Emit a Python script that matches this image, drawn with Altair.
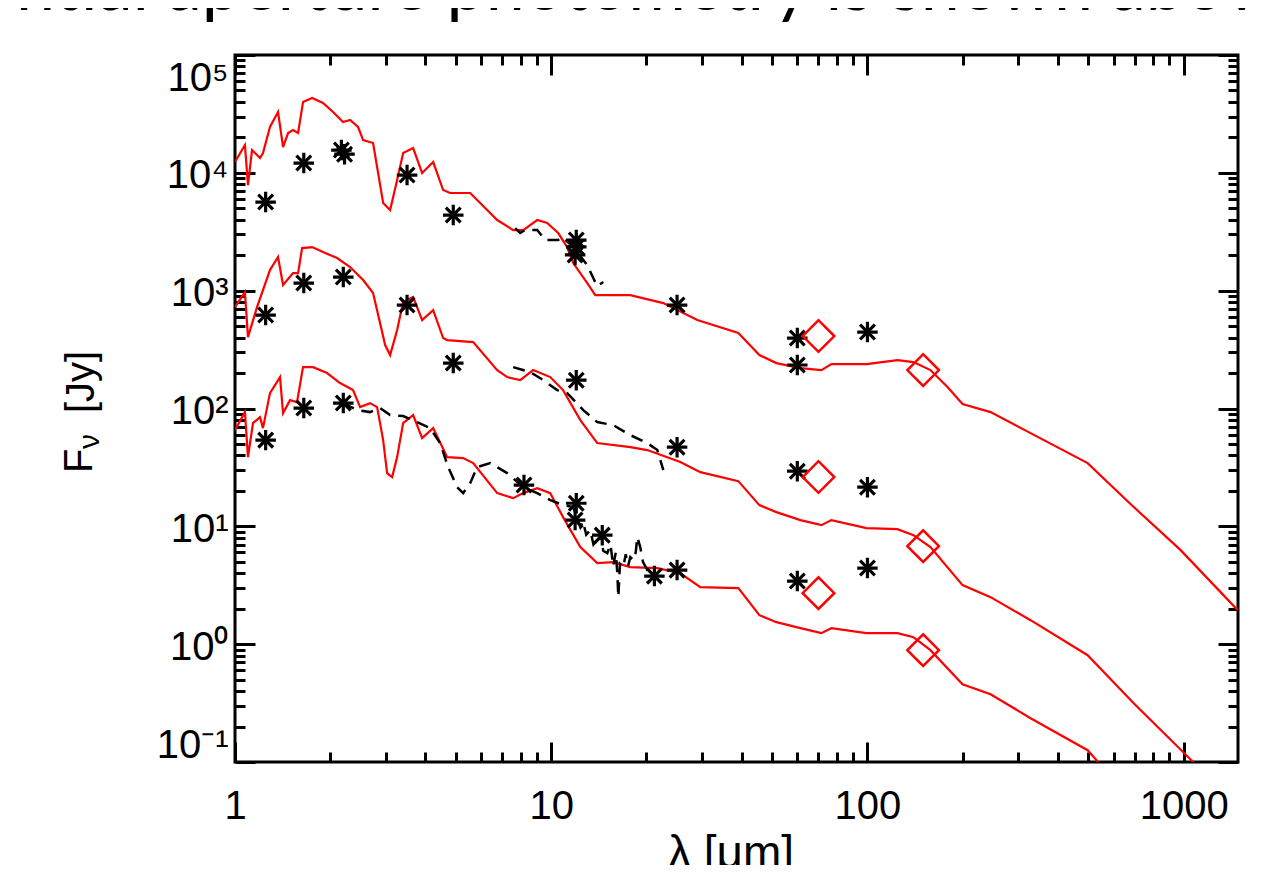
import altair as alt
import pandas as pd

# ---------------- data ----------------
# model SEDs (red)
top_lam = [1.00, 1.075, 1.099, 1.132, 1.20, 1.226, 1.29, 1.368, 1.419, 1.472, 1.526, 1.583, 1.641,
           1.753, 1.898, 2.042, 2.196, 2.312, 2.45, 2.542, 2.733, 2.941, 3.094, 3.256, 3.402, 3.659,
           3.906, 4.233, 4.552, 4.79, 5.543, 5.962, 6.748, 7.58, 8.155, 9.03, 9.71, 10.52, 11.23,
           11.74, 13.0, 13.78, 17.78, 22.62, 28.97, 39.06, 45.52, 51.52, 61.38, 71.52, 76.9, 99.3,
           124.4, 139.8, 158.2, 179.1, 199.8, 245.1, 328.0, 496.8, 694.9, 978.0, 1482.0]
top_flux = [12350, 17220, 7877, 15610, 13350, 14730, 24480, 32820, 16560, 21770, 23080, 21770, 39900,
            43150, 39130, 32820, 26990, 28070, 24480, 18980, 17910, 5540, 4832, 8687, 14730, 16240,
            9961, 12350, 7145, 6740, 6740, 5540, 3975, 3268, 3268, 3975, 3750, 3083, 2345,
            1715, 1160, 917.6, 917.6, 784.7, 562.9, 436.7, 284.0, 242.9, 220.3, 211.8, 238.2, 238.2,
            257.5, 247.7, 211.8, 152.0, 109.0, 93.2, 61.8, 34.4, 14.6, 6.28, 1.943]

mid_lam = [1.00, 1.075, 1.099, 1.174, 1.29, 1.368, 1.419, 1.526, 1.583, 1.63, 1.753, 1.898, 2.103,
           2.312, 2.542, 2.733, 2.984, 3.094, 3.256, 3.402, 3.659, 3.906, 4.233, 4.552, 4.688, 5.665,
           6.748, 7.257, 7.98, 8.77, 9.93, 10.9, 12.36, 13.98, 17.78, 20.13, 25.6, 29.61, 39.06,
           45.52, 51.52, 61.38, 71.52, 76.9, 99.3, 124.4, 139.8, 158.2, 199.8, 245.1, 328.0, 496.8,
           694.9, 1075.0, 1482.0]
mid_flux = [725.6, 972.9, 403.7, 725.6, 1496, 1929, 1116, 1411, 1411, 2299, 2345, 2127, 1891,
            1586, 1230, 954, 345.2, 284.0, 463.0, 800.2, 882.5, 562.9, 684.3, 396.0, 380.8, 366.3,
            211.8, 184.8, 174.2, 211.8, 184.8, 143.3, 79.7, 50.9, 47.0, 44.4, 35.1, 28.84, 24.19,
            15.14, 13.2, 11.3, 10.24, 11.3, 9.65, 9.47, 8.42, 6.66, 3.17, 2.506, 1.598, 0.806,
            0.3157, 0.0992, 0.0413]

bot_lam = [1.00, 1.075, 1.099, 1.14, 1.20, 1.226, 1.29, 1.388, 1.419, 1.493, 1.571, 1.641, 1.766,
           1.955, 2.149, 2.362, 2.487, 2.674, 2.814, 2.941, 3.027, 3.14, 3.256, 3.402, 3.659, 3.906,
           4.233, 4.688, 5.267, 5.665, 6.748, 7.58, 8.155, 9.03, 9.93, 10.9, 12.36, 13.98, 15.71,
           17.78, 21.65, 25.6, 29.61, 39.06, 45.52, 51.52, 61.38, 71.52, 76.9, 99.3, 124.4, 139.8,
           158.2, 199.8, 245.1, 328.0, 496.8, 538.0, 1482.0]
bot_flux = [65.56, 93.2, 38.68, 75.16, 84.53, 68.18, 135.1, 184.8, 91.4, 117.8, 113.3, 224.5, 224.5,
            199.8, 164.3, 143.3, 102.8, 111.1, 102.8, 53.9, 28.29, 26.17, 38.68, 75.16, 87.9, 56.08,
            68.18, 38.68, 37.93, 34.4, 19.13, 17.35, 19.13, 21.1, 19.13, 11.97, 6.66, 4.87, 4.97,
            4.505, 4.417, 4.0, 3.047, 2.988, 1.763, 1.537, 1.367, 1.240, 1.367, 1.240, 1.240, 1.147,
            0.889, 0.4574, 0.3763, 0.2354, 0.126, 0.0992, 0.00563]

# observed spectra (black dashed)
top_spec_lam = [7.69, 7.98, 8.275, 9.03, 9.57, 10.52, 10.83, 11.74, 13.0, 13.58, 13.98, 14.61]
top_spec_flux = [3400, 3083, 3268, 3268, 2688, 2688, 2851, 2345, 1649, 1279, 1094, 1183]
mid_spec_lam = [7.58, 8.58, 9.434, 10.44, 11.23, 12.63, 13.98, 15.71, 17.78, 20.13, 21.65, 22.62]
mid_spec_flux = [224.5, 203.7, 174.2, 143.3, 135.1, 96.9, 76.66, 72.3, 59.45, 50.85, 44.37, 30.0]
bot_spec_lam = [2.196, 2.433, 2.674, 2.875, 3.094, 3.402, 3.767, 4.141, 4.454, 4.721, 5.041, 5.267,
                5.543, 5.833, 6.412, 7.257, 8.155, 9.03, 9.93, 10.9, 11.74, 12.36, 12.6, 12.9, 13.29,
                13.6, 13.98, 14.3, 14.6, 15.04, 15.4, 15.7, 16.0, 16.18, 16.3, 16.5, 16.9, 17.2, 17.5,
                17.78, 18.18, 18.5, 18.72, 19.12, 19.5, 20.13, 21.03]
bot_spec_flux = [111.1, 96.9, 93.2, 100.8, 87.9, 86.2, 76.66, 68.18, 50.85, 31.8, 21.5, 19.13,
                 23.26, 31.8, 34.4, 28.29, 21.5, 19.13, 16.69, 15.14, 14.55, 9.84, 11.0, 8.5, 9.29,
                 7.0, 7.64, 9.0, 6.2, 5.92, 7.0, 4.6, 6.0, 4.005, 2.506, 4.8, 4.505, 5.8, 4.6,
                 5.475, 5.166, 6.0, 8.1, 6.66, 5.0, 4.25, 4.005]

# photometry (black asterisks)
top_phot_lam = [1.25, 1.65, 2.17, 2.22, 3.5, 4.9, 11.9, 12.0, 12.0, 25.0, 60.0, 60.0, 100.0]
top_phot_flux = [5650, 12100, 15600, 14400, 9580, 4380, 2010, 2350, 2690, 755, 396, 234, 445]
mid_phot_lam = [1.25, 1.65, 2.2, 3.5, 4.9, 12.0, 25.0, 60.0, 100.0]
mid_phot_flux = [621, 1160, 1304, 755, 243, 174, 47.0, 29.4, 21.5]
bot_phot_lam = [1.25, 1.65, 2.2, 8.2, 12.0, 11.9, 14.5, 21.2, 25.0, 60.0, 100.0]
bot_phot_flux = [53.9, 100.8, 111.1, 22.4, 15.7, 11.3, 8.42, 3.78, 4.25, 3.43, 4.42]

# new photometry (red diamonds)
dia_lam = [70, 150, 70, 150, 70, 150]
dia_flux = [412, 212, 26.2, 6.79, 2.71, 0.889]

# axes
X_DOMAIN = [1, 1485]
Y_DOMAIN = [0.1, 100000]
x_major = [1, 10, 100, 1000]
x_minor = [2, 3, 4, 5, 6, 7, 8, 9, 20, 30, 40, 50, 60, 70, 80, 90,
           200, 300, 400, 500, 600, 700, 800, 900]
y_major = [0.1, 1, 10, 100, 1000, 10000, 100000]
y_major_text = ['10⁻¹', '10⁰', '10¹', '10²', '10³', '10⁴', '10⁵']
y_minor = [m * d for d in [0.1, 1, 10, 100, 1000, 10000] for m in [2, 3, 4, 5, 6, 7, 8, 9]]

headline = 'ential aperture photometry is shown above'
x_title = 'λ [μm]'
y_title_main = 'F'
y_title_sub = 'ν'
y_title_unit = '[Jy]'

# ---------------- tables ----------------
def table(pairs):
    rows = []
    for name, lam, flux in pairs:
        for i, (l, f) in enumerate(zip(lam, flux)):
            rows.append({'series': name, 'idx': i, 'lam': l, 'flux': f})
    return pd.DataFrame(rows)

model_df = table([('top', top_lam, top_flux), ('mid', mid_lam, mid_flux), ('bot', bot_lam, bot_flux)])
spec_df = table([('top', top_spec_lam, top_spec_flux), ('mid', mid_spec_lam, mid_spec_flux),
                 ('bot', bot_spec_lam, bot_spec_flux)])
phot_df = table([('top', top_phot_lam, top_phot_flux), ('mid', mid_phot_lam, mid_phot_flux),
                 ('bot', bot_phot_lam, bot_phot_flux)])
dia_df = pd.DataFrame({'lam': dia_lam, 'flux': dia_flux})

W, H = 1003, 707
FONT = 'Liberation Sans'

xs = alt.Scale(type='log', domain=X_DOMAIN, nice=False)
ys = alt.Scale(type='log', domain=Y_DOMAIN, nice=False)

# inward-pointing ticks: an axis of the opposite orient pushed across the plot with a negative offset
def tick_axis(orient, values, size, offset):
    return alt.Axis(orient=orient, values=values, tickSize=size, offset=offset, tickWidth=3,
                    tickColor='black', labels=False, domain=False, grid=False)

y_expr = ' : '.join(f"datum.value < {v * 3} ? '{t}'" for v, t in zip(y_major[:-1], y_major_text[:-1]))
y_expr += f" : '{y_major_text[-1]}'"

lab = dict(ticks=False, domain=False, grid=False, labelFont=FONT, labelFontSize=40,
           labelColor='black', labelOverlap=False)
ax_x_labels = alt.Axis(orient='bottom', values=x_major, format='d', labelPadding=24,
                       labelFlush=False, **lab)
ax_y_labels = alt.Axis(orient='left', values=y_major, labelExpr=y_expr, labelPadding=7,
                       labelFlush=True, labelOffset=3, **lab)

ax_xb_major = tick_axis('top', x_major, 20, -H)      # bottom edge, ticks up
ax_xb_minor = tick_axis('top', x_minor, 10, -H)
ax_xt_major = tick_axis('bottom', x_major, 20, -H)   # top edge, ticks down
ax_xt_minor = tick_axis('bottom', x_minor, 10, -H)
ax_yl_major = tick_axis('right', y_major, 20, -W)    # left edge, ticks right
ax_yl_minor = tick_axis('right', y_minor, 10, -W)
ax_yr_major = tick_axis('left', y_major, 20, -W)     # right edge, ticks left
ax_yr_minor = tick_axis('left', y_minor, 10, -W)

PLUS = 'M0,-1L0,1M-1,0L1,0'
CROSS = 'M-0.72,-0.72L0.72,0.72M-0.72,0.72L0.72,-0.72'

model = alt.Chart(model_df).mark_line(color='#ff0000', strokeWidth=2.2, clip=True).encode(
    x=alt.X('lam:Q', scale=xs, axis=ax_x_labels, title=None),
    y=alt.Y('flux:Q', scale=ys, axis=ax_y_labels, title=None),
    detail='series:N', order=alt.Order('idx:Q'))

spectra = alt.Chart(spec_df).mark_line(color='black', strokeWidth=2.5, strokeDash=[12, 8], clip=True).encode(
    x=alt.X('lam:Q', scale=xs, axis=ax_xb_major, title=None),
    y=alt.Y('flux:Q', scale=ys, axis=ax_yl_major, title=None),
    detail='series:N', order=alt.Order('idx:Q'))

phot_plus = alt.Chart(phot_df).mark_point(shape=PLUS, size=420, filled=False, color='black',
                                          strokeWidth=3.2, opacity=1).encode(
    x=alt.X('lam:Q', scale=xs, axis=ax_xb_minor, title=None),
    y=alt.Y('flux:Q', scale=ys, axis=ax_yl_minor, title=None))

phot_cross = alt.Chart(phot_df).mark_point(shape=CROSS, size=420, filled=False, color='black',
                                           strokeWidth=3.2, opacity=1).encode(
    x=alt.X('lam:Q', scale=xs, axis=ax_xt_major, title=None),
    y=alt.Y('flux:Q', scale=ys, axis=ax_yr_major, title=None))

dia = alt.Chart(dia_df).mark_point(shape='diamond', size=1000, filled=False, color='#ff0000',
                                   strokeWidth=2.5, opacity=1).encode(
    x=alt.X('lam:Q', scale=xs, axis=ax_xt_minor, title=None),
    y=alt.Y('flux:Q', scale=ys, axis=ax_yr_minor, title=None))

def text_layer(txt, x, y, size, font=FONT, angle=0, align='left', baseline='alphabetic'):
    return alt.Chart(pd.DataFrame({'t': [txt]})).mark_text(
        font=font, fontSize=size, angle=angle, align=align, baseline=baseline, color='black'
    ).encode(text='t:N', x=alt.value(x), y=alt.value(y))

head = text_layer(headline, -256, -45, 70, font='Lato')
xt = text_layer(x_title, 496, 777, 46, align='center', baseline='top')
yt1 = text_layer(y_title_main, -143, 418, 40, angle=270)
yt2 = text_layer(y_title_sub, -136, 394, 30, angle=270)
yt3 = text_layer(y_title_unit, -141, 358, 40, angle=270)

chart = alt.layer(model, spectra, phot_plus, phot_cross, dia, head, xt, yt1, yt2, yt3).resolve_axis(
    x='independent', y='independent'
).properties(
    width=W, height=H,
    autosize=alt.AutoSizeParams(type='none'),
    padding={'left': 227, 'top': 47, 'right': 30, 'bottom': 103},
    background='white'
).configure_view(stroke='black', strokeWidth=3)

chart.save('out.html', embed_options={'renderer': 'svg', 'actions': False})
